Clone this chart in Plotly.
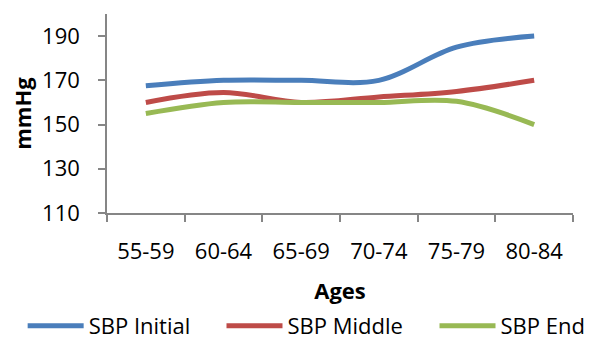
import plotly.graph_objects as go

ages = ["55-59", "60-64", "65-69", "70-74", "75-79", "80-84"]
sbp_initial = [167.5, 170, 170, 170, 185, 190]
sbp_middle = [160, 164.5, 160, 162.5, 165, 170]
sbp_end = [155, 160, 160, 160, 160.5, 150]
y_ticks = [110, 130, 150, 170, 190]

FONT = "Open Sans"
fig = go.Figure()
series = [("SBP Initial", sbp_initial, "#4A7EBB", "legend"),
          ("SBP Middle", sbp_middle, "#BE4B48", "legend2"),
          ("SBP End", sbp_end, "#98B954", "legend3")]
for name, vals, col, lg in series:
    fig.add_trace(go.Scatter(x=ages, y=vals, name=name, mode="lines", legend=lg,
                             line=dict(color=col, width=5, shape="spline", smoothing=1)))

leg_common = dict(orientation="h", xanchor="left", y=-0.568, yanchor="middle",
                  font=dict(size=22), itemwidth=56, bgcolor="rgba(0,0,0,0)")

fig.update_layout(
    width=589, height=341,
    margin=dict(l=107, r=16, t=14, b=128, autoexpand=False),
    paper_bgcolor="white", plot_bgcolor="white",
    font=dict(family=FONT, size=22, color="#000000"),
    showlegend=True,
    legend=dict(x=-0.181, **leg_common),
    legend2=dict(x=0.2457, **leg_common),
    legend3=dict(x=0.7028, **leg_common),
    xaxis=dict(type="category", range=[-0.5, 5.5], tickson="boundaries",
               ticks="outside", ticklen=7, tickwidth=1.5, tickcolor="#868686",
               showline=True, linecolor="#868686", linewidth=1.5,
               showgrid=False, zeroline=False, ticklabelstandoff=18, automargin=False,
               title=dict(text="<b>Ages</b>", font=dict(size=22), standoff=19)),
    yaxis=dict(range=[110, 200], tickvals=y_ticks, ticks="outside", ticklen=7,
               tickwidth=1.5, tickcolor="#868686",
               showline=True, linecolor="#868686", linewidth=1.5,
               showgrid=False, zeroline=False, ticklabelstandoff=14, automargin=False,
               title=dict(text="<b>mmHg</b>", font=dict(size=22), standoff=4)),
)
fig.write_html("out.html", config={"displayModeBar": False},
               post_script="document.body.style.margin='0';")
